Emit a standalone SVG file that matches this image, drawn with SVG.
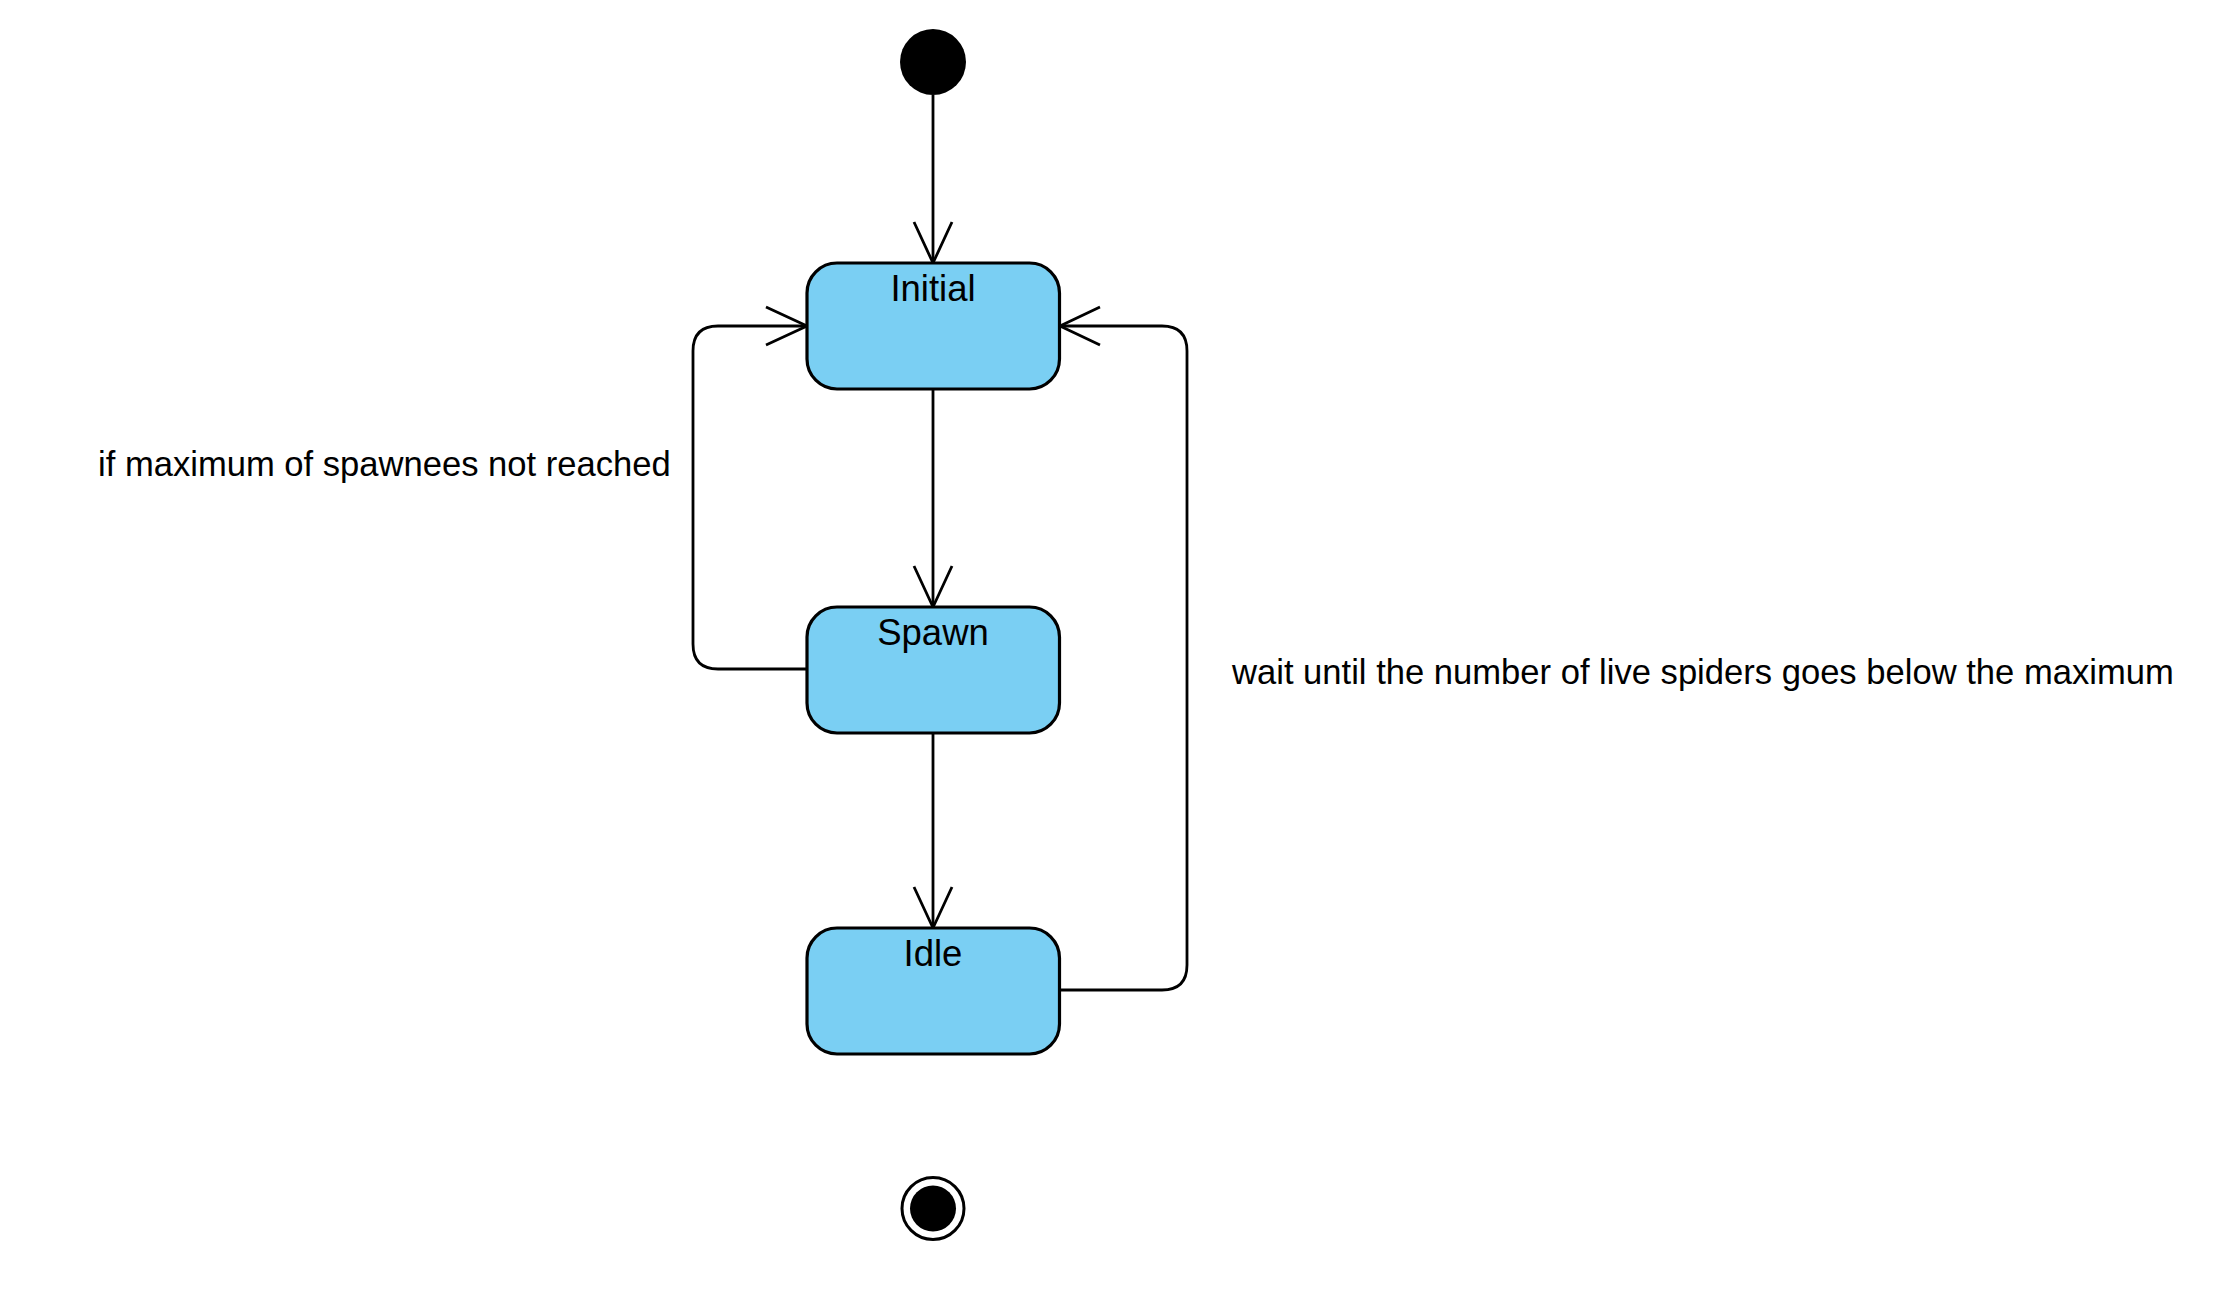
<svg xmlns="http://www.w3.org/2000/svg" width="2239" height="1311" viewBox="0 0 2239 1311">
<style>
.state{fill:#7acff3;stroke:#000;stroke-width:3.2}
.name{font-family:"Liberation Sans",Arial,sans-serif;font-size:36.5px;fill:#000;text-anchor:middle}
.lbl{font-family:"Liberation Sans",Arial,sans-serif;font-size:34.6px;fill:#000}
.edge{fill:none;stroke:#000;stroke-width:2.8}
</style>
<rect width="2239" height="1311" fill="#fff"/>
<g id="connectors">
<path class="edge" d="M933,95 V263"/>
<path class="edge" d="M914,222 L933,263 L952,222"/>
<path class="edge" d="M933,389 V607"/>
<path class="edge" d="M914,566 L933,607 L952,566"/>
<path class="edge" d="M933,733 V928"/>
<path class="edge" d="M914,887 L933,928 L952,887"/>
<path class="edge" d="M807,669 H718 Q693,669 693,644 V351 Q693,326 718,326 H807"/>
<path class="edge" d="M766,307 L807,326 L766,345"/>
<path class="edge" d="M1059.5,990 H1162 Q1187,990 1187,965 V351 Q1187,326 1162,326 H1060"/>
<path class="edge" d="M1100,307 L1060,326 L1100,345"/>
<text class="lbl" x="98" y="476">if maximum of spawnees not reached</text>
<text class="lbl" x="1232" y="684">wait until the number of live spiders goes below the maximum</text>
</g>
<g id="start"><circle cx="933" cy="62" r="33" fill="#000"/></g>
<g id="initial"><rect class="state" x="807" y="263" width="252.5" height="126" rx="30"/><text class="name" x="933" y="301">Initial</text></g>
<g id="spawn"><rect class="state" x="807" y="607" width="252.5" height="126" rx="30"/><text class="name" x="933" y="645">Spawn</text></g>
<g id="idle"><rect class="state" x="807" y="928" width="252.5" height="126" rx="30"/><text class="name" x="933" y="966">Idle</text></g>
<g id="end"><circle cx="933" cy="1208.5" r="31" fill="#fff" stroke="#000" stroke-width="3"/><circle cx="933" cy="1208.5" r="23" fill="#000"/></g>
</svg>
